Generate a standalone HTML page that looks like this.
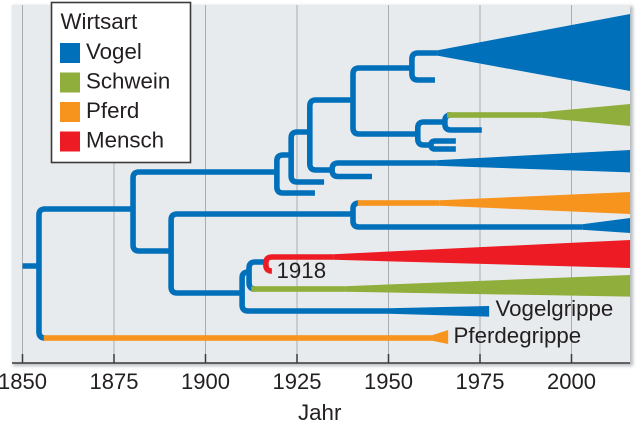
<!DOCTYPE html>
<html lang="de">
<head>
<meta charset="utf-8">
<title>Influenza-Stammbaum</title>
<style>
html,body{margin:0;padding:0;background:#fff;}
svg{display:block;font-family:"Liberation Sans",sans-serif;fill:#231f20;}
</style>
</head>
<body>
<svg id="chart" width="638" height="422" viewBox="0 0 638 422" xmlns="http://www.w3.org/2000/svg">
<defs>
<filter id="soft" x="-5%" y="-5%" width="110%" height="110%"><feGaussianBlur stdDeviation="1.5"/></filter>
</defs>
<rect x="13" y="6" width="620" height="360" fill="#b9bcbf" filter="url(#soft)"/>
<rect x="12" y="5" width="618" height="358" fill="#e8ebee"/>
<g id="grid"></g>
<g id="tree"></g>
<g id="axis"></g>
<text x="298" y="420" font-size="22.3">Jahr</text>
<text x="276.5" y="278" font-size="22.3">1918</text>
<text x="495.5" y="316" font-size="22.3">Vogelgrippe</text>
<text x="453.5" y="343" font-size="22.3">Pferdegrippe</text>
<g>
<rect x="51.5" y="2.5" width="139" height="160" fill="#fff" stroke="#3a3a3c" stroke-width="1.6"/>
<text x="60.5" y="29" font-size="22.3">Wirtsart</text>
<g>
<rect x="60" y="43" width="20" height="20" fill="#0070bb"/>
<text x="86" y="59" font-size="22.3">Vogel</text>
</g>
<g>
<rect x="60" y="72.5" width="20" height="20" fill="#8fae3c"/>
<text x="86" y="88.5" font-size="22.3">Schwein</text>
</g>
<g>
<rect x="60" y="102" width="20" height="20" fill="#f7941e"/>
<text x="86" y="118" font-size="22.3">Pferd</text>
</g>
<g>
<rect x="60" y="131.5" width="20" height="20" fill="#ed1c24"/>
<text x="86" y="147.5" font-size="22.3">Mensch</text>
</g>
</g>
</svg>
<script>
const tickYears = [1850, 1875, 1900, 1925, 1950, 1975, 2000];

// Tree forks: split year, upper and lower lane, and the year each arm ends.
const forkYears      = [1854.5, 1880.2, 1919.5, 1923.4, 1928.5, 1940.3, 1956.4, 1958.0, 1965.4, 1961.6, 1934.6, 1890.6, 1940.3, 1910.0, 1911.9, 1916.5];
const forkUpperLanes = [104.5,  86,     77.5,   66,     50,     34,     26.5,   61,     57.5,   70.5,   81.5,   107,    101.5,  136,    131,    128.5];
const forkLowerLanes = [169,    125.5,  96.5,   91,     85,     67,     40,     72.5,   65,     74.5,   88.25,  146.5,  113.5,  155.5,  144.5,  135.5];
const forkUpperEnds  = [1880.2, 1919.5, 1923.4, 1928.5, 1940.3, 1956.4, 1963.5, 1965.4, 1966.0, 1968.4, 1963.0, 1940.3, 1942.0, 1911.9, 1916.5, 1935.0];
const forkLowerEnds  = [1856.0, 1890.6, 1929.9, 1932.4, 1934.6, 1958.0, 1962.7, 1961.6, 1975.5, 1968.4, 1945.5, 1910.0, 2002.9, 1950.0, 1913.0, 1917.6];
const forkHosts      = ['vogel','vogel','vogel','vogel','vogel','vogel','vogel','vogel','vogel','vogel','vogel','vogel','vogel','vogel','vogel','mensch'];

// Root stem.
const rootStartYear = 1850;
const rootLane = 133;

// Widening lineages: stem start, flare start, end year, lane and end spread.
const lineageHosts      = ['vogel','schwein','vogel','pferd','vogel','mensch','schwein','vogel','pferd'];
const lineageStemStarts = [1963.5, 1966.0, 1963.0, 1941.6, 2002.9, 1935.0, 1912.5, 1950.0, 1855.8];
const lineageFlareStart = [1963.5, 1991.7, 1963.0, 1964.0, 2002.9, 1935.0, 1938.0, 1950.0, 1961.9];
const lineageEndYears   = [2016,   2016,   2016,   2016,   2016,   2016,   2016,   1977.5, 1966.3];
const lineageLanes      = [26.5,   57.5,   81.5,   101.5,  113.5,  128.5,  144.5,  155.5,  169];
const lineageTopLanes   = [7,      52,     75,     96,     109,    120,    137.5,  153,    165];
const lineageBottomLanes= [45.5,   63,     86.2,   107,    116.5,  134,    148.3,  158.3,  172];

const hostColors = { vogel: '#0070bb', schwein: '#8fae3c', pferd: '#f7941e', mensch: '#ed1c24' };

const NS = 'http://www.w3.org/2000/svg';
const xScale = year => 22.5 + (year - 1850) * 3.66;
const yScale = lane => lane * 2;

const grid = document.getElementById('grid');
const axis = document.getElementById('axis');
const tree = document.getElementById('tree');

const axisLine = document.createElementNS(NS, 'line');


axisLine.setAttribute('x1', 12);
axisLine.setAttribute('x2', 630);
axisLine.setAttribute('y1', 363);
axisLine.setAttribute('y2', 363);
axisLine.setAttribute('stroke', '#3a3a3c');
axisLine.setAttribute('stroke-width', 1.5);
axis.appendChild(axisLine);

tickYears.forEach(year => {
  const x = xScale(year);
  const gridLine = document.createElementNS(NS, 'line');
  
  
  gridLine.setAttribute('x1', x);
  gridLine.setAttribute('x2', x);
  gridLine.setAttribute('y1', 5);
  gridLine.setAttribute('y2', 363);
  gridLine.setAttribute('stroke', '#a9adb0');
  gridLine.setAttribute('stroke-width', 1);
  grid.appendChild(gridLine);

  const tick = document.createElementNS(NS, 'line');
  
  
  tick.setAttribute('x1', x);
  tick.setAttribute('x2', x);
  tick.setAttribute('y1', 354);
  tick.setAttribute('y2', 363);
  tick.setAttribute('stroke', '#3a3a3c');
  tick.setAttribute('stroke-width', 1.5);
  axis.appendChild(tick);

  const label = document.createElementNS(NS, 'text');
  
  
  label.setAttribute('x', x);
  label.setAttribute('y', 389);
  label.setAttribute('font-size', 22);
  label.setAttribute('text-anchor', 'middle');
  label.textContent = String(year);
  axis.appendChild(label);
});

const rootStem = document.createElementNS(NS, 'line');


rootStem.setAttribute('x1', xScale(rootStartYear));
rootStem.setAttribute('x2', xScale(forkYears[0]));
rootStem.setAttribute('y1', yScale(rootLane));
rootStem.setAttribute('y2', yScale(rootLane));
rootStem.setAttribute('stroke', hostColors.vogel);
rootStem.setAttribute('stroke-width', 5.6);
tree.appendChild(rootStem);

forkYears.forEach((year, i) => {
  const x = xScale(year);
  const yTop = yScale(forkUpperLanes[i]);
  const yBottom = yScale(forkLowerLanes[i]);
  const r = Math.min(6, (yBottom - yTop) / 2);
  const fork = document.createElementNS(NS, 'path');
  
  
  fork.setAttribute('d',
    'M' + xScale(forkUpperEnds[i]) + ' ' + yTop +
    ' H' + (x + r) +
    ' Q' + x + ' ' + yTop + ' ' + x + ' ' + (yTop + r) +
    ' V' + (yBottom - r) +
    ' Q' + x + ' ' + yBottom + ' ' + (x + r) + ' ' + yBottom +
    ' H' + xScale(forkLowerEnds[i]));
  fork.setAttribute('fill', 'none');
  fork.setAttribute('stroke', hostColors[forkHosts[i]]);
  fork.setAttribute('stroke-width', 5.6);
  tree.appendChild(fork);
});

// Lineages sit on top of the tree arms, so a host colour starts cleanly at its node.
lineageHosts.forEach((host, i) => {
  const stem = document.createElementNS(NS, 'rect');
  
  
  stem.setAttribute('x', xScale(lineageStemStarts[i]));
  stem.setAttribute('y', yScale(lineageLanes[i]) - 2.8);
  stem.setAttribute('width', Math.max(0, xScale(lineageFlareStart[i]) - xScale(lineageStemStarts[i])));
  stem.setAttribute('height', 5.6);
  stem.setAttribute('fill', hostColors[host]);
  tree.appendChild(stem);

  const flare = document.createElementNS(NS, 'polygon');
  
  
  const x0 = xScale(lineageFlareStart[i]);
  const x1 = xScale(lineageEndYears[i]);
  const yc = yScale(lineageLanes[i]);
  flare.setAttribute('points', [
    [x0, yc - 2.8],
    [x1, yScale(lineageTopLanes[i])],
    [x1, yScale(lineageBottomLanes[i])],
    [x0, yc + 2.8]
  ].map(p => p.join(',')).join(' '));
  flare.setAttribute('fill', hostColors[host]);
  tree.appendChild(flare);
});
</script>
</body>
</html>
